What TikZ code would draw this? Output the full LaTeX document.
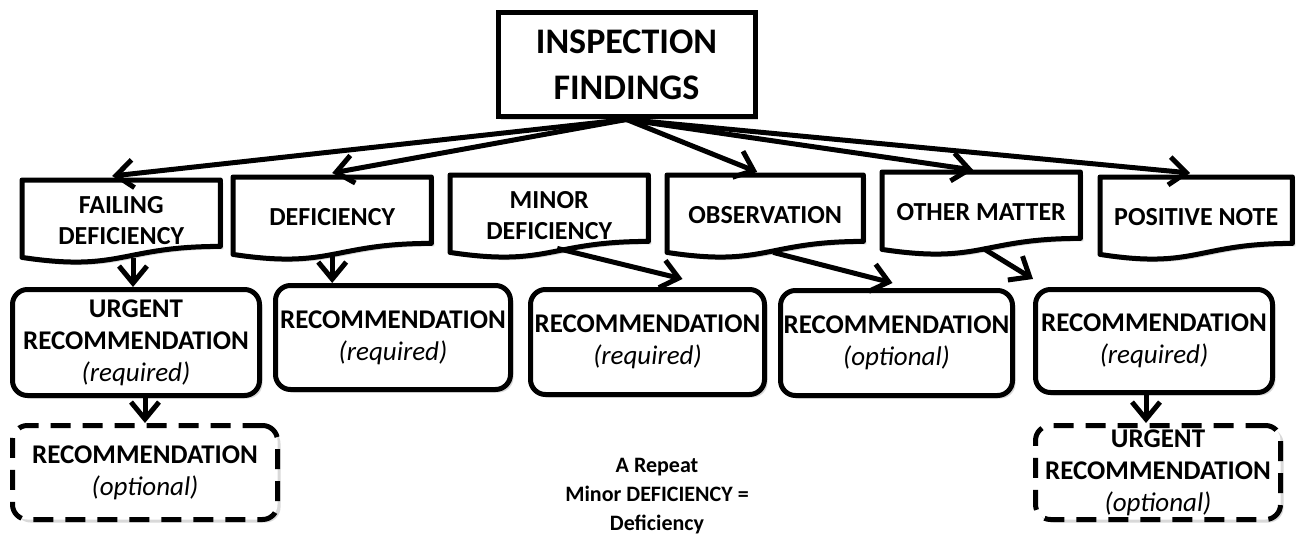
\documentclass[tikz,border=0pt]{standalone}
\usepackage{fontspec}
\setmainfont{Carlito}
\usetikzlibrary{arrows.meta,shadows,calc,backgrounds}

\tikzset{
  shade/.style={drop shadow={shadow xshift=3pt,shadow yshift=-3pt,opacity=0.25,fill=black!60}},
  headbox/.style={draw,line width=5pt,fill=white,shade,align=center,inner sep=0pt,
    minimum width=257pt,minimum height=104pt,font=\bfseries\fontsize{36}{46}\selectfont},
  findbox/.style={anchor=north west,align=center,inner sep=0pt,
    minimum width=198pt,minimum height=80pt,font=\bfseries\fontsize{26}{31}\selectfont},
  docline/.style={line width=5pt,fill=white,shade,line join=round},
  recbox/.style={anchor=north west,draw,line width=5pt,rounded corners=15pt,fill=white,shade,
    align=center,inner sep=1pt,font=\bfseries\fontsize{27}{32}\selectfont},
  optbox/.style={recbox,dash pattern=on 20pt off 12pt},
  link/.style={line width=5pt,-{Straight Barb[length=17pt,width=28pt]}},
}

\begin{document}
\begin{tikzpicture}[x=1pt,y=-1pt]
    \useasboundingbox (0,0) rectangle (1297,559);
    % top
    \node[headbox] (head) at (626.5,65) {INSPECTION\\FINDINGS};
    % findings
    \node[findbox] (f1) at (22,180) {FAILING\\DEFICIENCY};
    \node[findbox] (f2) at (233,177) {DEFICIENCY};
    \node[findbox] (f3) at (450,175) {MINOR\\DEFICIENCY};
    \node[findbox,minimum width=196pt] (f4) at (667,175) {OBSERVATION};
    \node[findbox] (f5) at (882,172) {OTHER MATTER};
    \node[findbox,minimum width=192pt] (f6) at (1100,177) {POSITIVE NOTE};
    \begin{scope}[on background layer]
    \foreach \f in {f1,f2,f3,f4,f5,f6}
        \draw[docline] (\f.north west) -- (\f.north east) -- ($(\f.south east)+(0,-14)$)
            .. controls ($(\f.south)+(0,-14)$) and ($(\f.south)+(0,12)$) .. ($(\f.south west)+(0,-3)$) -- cycle;
    \end{scope}
    % recommendations
    \node[recbox,minimum width=247pt,minimum height=106pt] (r1) at (10,287)
        {URGENT\\RECOMMENDATION\\{\mdseries\itshape (required)}};
    \node[recbox,minimum width=235pt,minimum height=104pt] (r2) at (273,283)
        {RECOMMENDATION\\{\mdseries\itshape (required)}};
    \node[recbox,minimum width=234pt,minimum height=105pt] (r3) at (528,287)
        {RECOMMENDATION\\{\mdseries\itshape (required)}};
    \node[recbox,minimum width=232pt,minimum height=105pt] (r4) at (778,288)
        {RECOMMENDATION\\{\mdseries\itshape (optional)}};
    \node[recbox,minimum width=237pt,minimum height=103pt] (r5) at (1033,287)
        {RECOMMENDATION\\{\mdseries\itshape (required)}};
    \node[optbox,minimum width=265pt,minimum height=94pt] (d1) at (10,423)
        {RECOMMENDATION\\{\mdseries\itshape (optional)}};
    \node[optbox,minimum width=245pt,minimum height=94pt,inner sep=0pt] (d2) at (1033,423)
        {URGENT\\RECOMMENDATION\\{\mdseries\itshape (optional)}};
    \node[align=center,font=\bfseries\fontsize{22}{29}\selectfont] (note) at (657,496)
        {A Repeat\\Minor DEFICIENCY =\\Deficiency};
    % arrows
    \draw[link] (head.south) -- ($(f1.north)+(-9,-4)$);
    \draw[link] (head.south) -- ($(f2.north)+(0,-4)$);
    \draw[link] (head.south) -- ($(f4.north)+(-8,-3)$);
    \draw[link] (head.south) -- ($(f5.north)+(-8,-2)$);
    \draw[link] (head.south) -- ($(f6.north)+(-6,-4)$);
    \draw[link] ($(r1.north |- f1.south)+(-3,-2)$) -- ($(r1.north)+(-3,0)$);
    \draw[link] ($(f2.south)+(0,-2)$) -- (f2.south |- r2.north);
    \draw[link] ($(f3.south)+(8,-7)$) -- ($(r3.north)+(35,-8)$);
    \draw[link] ($(f4.south)+(8,-3)$) -- ($(r4.north)+(-4,-5)$);
    \draw[link] ($(f5.south)+(2,-4)$) -- ($(r5.north west)+(0,-8)$);
    \draw[link] (d1.north |- r1.south) -- (d1.north);
    \draw[link] ($(r5.south)+(-8,0)$) -- ($(r5.south |- d2.north)+(-8,0)$);
\end{tikzpicture}
\end{document}
